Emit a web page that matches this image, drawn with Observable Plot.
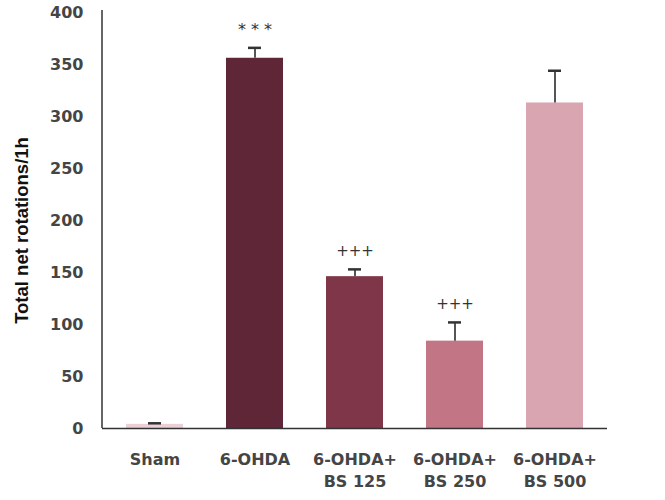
<!DOCTYPE html>
<html>
<head>
<meta charset="utf-8">
<script src="https://cdn.jsdelivr.net/npm/d3@7"></script>
<script src="https://cdn.jsdelivr.net/npm/@observablehq/plot@0.6"></script>
<style>
  html, body { margin: 0; padding: 0; background: #fff; }
</style>
</head>
<body>
<div id="chart"></div>
<script>
const groups = ["Sham", "6-OHDA", "6-OHDA+BS 125", "6-OHDA+BS 250", "6-OHDA+BS 500"];
const tickLabels = ["Sham", "6-OHDA", "6-OHDA+\nBS 125", "6-OHDA+\nBS 250", "6-OHDA+\nBS 500"];
const means = [4, 356, 146, 84, 313];
const errors = [1, 10, 7, 18, 31];
const marks = ["", "***", "+++", "+++", ""];
const colors = ["#ebd0d6", "#5e2637", "#803649", "#c27584", "#d9a5b1"];
const yTicks = [0, 50, 100, 150, 200, 250, 300, 350, 400];

const data = groups.map((g, i) => ({
  group: g, label: tickLabels[i], mean: means[i], err: errors[i],
  top: means[i] + errors[i], mark: marks[i], color: colors[i]
}));

const chart = Plot.plot({
  width: 665,
  height: 500,
  marginLeft: 102,
  marginRight: 58,
  marginTop: 12,
  marginBottom: 72,
  style: { background: "#fff", color: "#404040" },
  x: { domain: groups, paddingInner: 0.43, paddingOuter: 0.22 },
  y: { domain: [0, 400] },
  marks: [
    Plot.barY(data, { x: "group", y: "mean", fill: "color" }),
    Plot.ruleX(data.filter(d => d.err > 0), { x: "group", y1: "mean", y2: "top", stroke: "#555", strokeWidth: 2 }),
    Plot.tickY(data, { x: "group", y: "top", stroke: "#333", strokeWidth: 2.5, insetLeft: 22, insetRight: 22 }),
    Plot.text(data.filter(d => d.mark === "+++"), {
      x: "group", y: "top", text: "mark", dy: -18,
      fontFamily: "DejaVu Sans", fontSize: 15, fill: "#333"
    }),
    Plot.text(data.filter(d => d.mark === "***"), {
      x: "group", y: "top", text: "mark", dy: -18,
      fontFamily: "DejaVu Sans", fontSize: 16, fill: "#333", className: "stars"
    }),
    Plot.ruleY([0], { stroke: "#333", strokeWidth: 1.5 }),
    Plot.axisY({
      ticks: yTicks, tickSize: 0, tickPadding: 19, label: null,
      fontFamily: "DejaVu Sans", fontSize: 16, fontWeight: "bold", fill: "#454545"
    }),
    Plot.axisX({
      tickSize: 0, tickPadding: 21, label: null,
      tickFormat: (g) => tickLabels[groups.indexOf(g)],
      lineHeight: 1.375,
      fontFamily: "DejaVu Sans", fontSize: 16, fontWeight: "bold", fill: "#454545"
    }),
    Plot.text(["Total net rotations/1h"], {
      frameAnchor: "left", rotate: -90, dx: -80, dy: 10, textAnchor: "middle",
      fontFamily: "Liberation Sans", fontSize: 18.5, fontWeight: "bold", fill: "#111"
    })
  ]
});

const ys = chart.scale("y");
const svg = d3.select(chart);
svg.append("line")
  .attr("x1", 102).attr("x2", 102)
  .attr("y1", ys.apply(400) - 2).attr("y2", ys.apply(0))
  .attr("stroke", "#333").attr("stroke-width", 1.5);
svg.selectAll(".stars text").attr("letter-spacing", "5px").attr("dx", "2.5px");

document.getElementById("chart").appendChild(chart);
</script>
</body>
</html>
